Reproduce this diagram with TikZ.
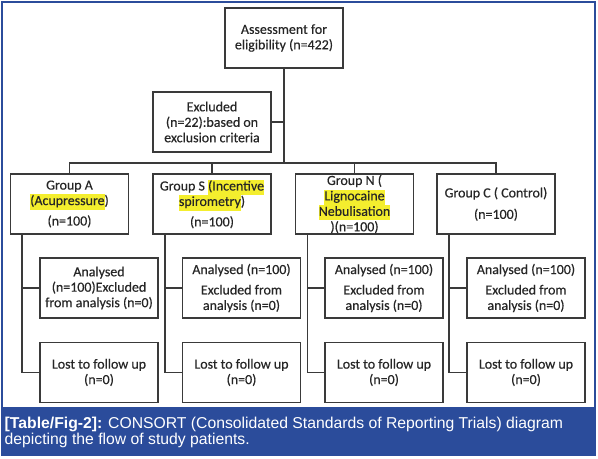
\documentclass[tikz,border=0pt]{standalone}
\usepackage{fontspec}
\setmainfont{Carlito}
\newfontfamily\boxfont[FakeBold=0.35]{Carlito}
\newfontfamily\capfont{Liberation Sans}
\definecolor{frameblue}{HTML}{2B4C9B}
\definecolor{hly}{HTML}{F4EE2E}
\definecolor{boxline}{HTML}{3A3A3A}
\newcommand\hlt[1]{{\setlength{\fboxsep}{0pt}\colorbox{hly}{\strut#1}}}
\begin{document}
\begin{tikzpicture}[x=1bp,y=-1bp,
  box/.style={draw=boxline, line width=1.5bp, align=center, inner sep=1bp,
    minimum width=118bp, minimum height=60bp,
    font=\boxfont\fontsize{14}{15.5}\selectfont, text=black!85},
  conn/.style={draw=boxline, line width=1.5bp},
  captext/.style={anchor=base west, inner sep=0pt, text=white,
    font=\capfont\fontsize{15.8}{17}\selectfont}]
\useasboundingbox (0,0) rectangle (598,459);
\fill[white] (0,0) rectangle (598,459);
\draw[frameblue, line width=1.6bp] (2,2) rectangle (595,408);
\fill[frameblue] (1.2,407) rectangle (595.8,456);

% top
\node[box] (assess) at (284,38) {Assessment for\\eligibility (n=422)};
\node[box] (excl) at (212,122) {Excluded\\(n=22):based on\\exclusion criteria};

% groups
\node[box] (gA) at (69.5,204) {Group A\\\hlt{(Acupressure})\\[5bp](n=100)};
\node[box] (gS) at (212,204) {Group S \hlt{(Incentive}\\\hlt{spirometry})\\[5bp](n=100)};
\node[box] (gN) at (354.5,204) {Group N (\\\hlt{Lignocaine}\\\hlt{Nebulisation}\\)(n=100)};
\node[box] (gC) at (496,204) {Group C ( Control)\\[6bp](n=100)};

% analysed
\node[box] (aA) at (99,288) {Analysed\\(n=100)Excluded\\from analysis (n=0)};
\node[box] (aS) at (241.5,288) {Analysed (n=100)\\[5bp]Excluded from\\analysis (n=0)};
\node[box] (aN) at (384,288) {Analysed (n=100)\\[5bp]Excluded from\\analysis (n=0)};
\node[box] (aC) at (526,288) {Analysed (n=100)\\[5bp]Excluded from\\analysis (n=0)};

% lost
\node[box] (lA) at (99,372.5) {Lost to follow up\\(n=0)};
\node[box] (lS) at (241.5,372.5) {Lost to follow up\\(n=0)};
\node[box] (lN) at (384,372.5) {Lost to follow up\\(n=0)};
\node[box] (lC) at (526,372.5) {Lost to follow up\\(n=0)};

% connectors
\coordinate (barY) at (0,163);
\draw[conn] (assess.south) -- (assess.south |- barY);
\draw[conn] (excl.east) -- (excl.east -| assess.south);
\draw[conn] (gA.north) -- (gA.north |- barY) -| (gC.north);
\draw[conn] (gS.north) -- (gS.north |- barY);
\draw[conn] (gN.north) -- (gN.north |- barY);

\foreach \g/\a/\l in {gA/aA/lA, gS/aS/lS, gN/aN/lN, gC/aC/lC}{
  \coordinate (t\g) at ([xshift=12.5bp]\g.south west);
  \draw[conn] (t\g) |- (\l.west);
  \draw[conn] (\a.west -| t\g) -- (\a.west);
}

% caption
\node[captext] (cap1) at (4.5,428) {\textbf{[Table/Fig-2]:} CONSORT (Consolidated Standards of Reporting Trials) diagram};
\node[captext] (cap2) at (4.5,444) {depicting the flow of study patients.};
\end{tikzpicture}
\end{document}
